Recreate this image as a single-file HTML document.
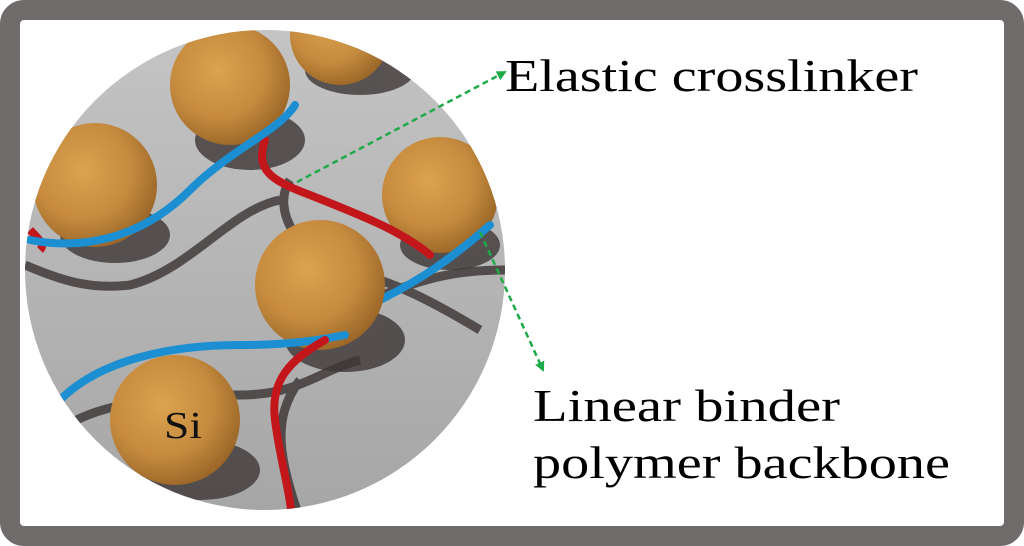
<!DOCTYPE html>
<html><head><style>
html,body{margin:0;padding:0;background:#fff;}
svg{display:block;}
</style></head><body>
<svg width="1024" height="546" viewBox="0 0 1024 546" xmlns="http://www.w3.org/2000/svg">
<defs>
<linearGradient id="bg" x1="0" y1="0" x2="0" y2="1">
<stop offset="0" stop-color="#c4c4c4"/><stop offset="1" stop-color="#a6a6a6"/>
</linearGradient>
<radialGradient id="ball" cx="0.4" cy="0.38" r="0.65">
<stop offset="0" stop-color="#dba250"/><stop offset="0.6" stop-color="#c68b3e"/><stop offset="1" stop-color="#9a6628"/>
</radialGradient>
<clipPath id="cc"><circle cx="265" cy="270" r="240"/></clipPath>
<marker id="ah" markerWidth="10" markerHeight="10" refX="8" refY="5" orient="auto" markerUnits="userSpaceOnUse">
<path d="M0,0 L10,5 L0,10 z" fill="#1faa4a"/></marker>
</defs>
<rect x="10" y="10" width="1004" height="526" rx="14" fill="#fff" stroke="#6f6b6b" stroke-width="20"/>
<circle cx="265" cy="270" r="240" fill="url(#bg)"/>
<g clip-path="url(#cc)">
<g fill="none" stroke="#3a3433" stroke-width="9" opacity="0.8">
<path d="M25,265 C60,280 90,290 130,285 C190,270 230,210 280,200"/>
<path d="M290,180 C270,210 300,260 350,270 C400,285 430,300 480,330"/>
<path d="M60,430 C100,400 180,395 240,395 C300,395 320,370 360,360"/>
<path d="M300,380 C270,420 280,460 300,520"/>
<path d="M370,300 C420,280 450,270 505,270"/>
</g>
<g fill="#3d3636" opacity="0.8">
<ellipse cx="250" cy="140" rx="55" ry="30"/>
<ellipse cx="115" cy="235" rx="55" ry="28"/>
<ellipse cx="450" cy="245" rx="50" ry="25"/>
<ellipse cx="345" cy="340" rx="60" ry="32"/>
<ellipse cx="200" cy="470" rx="60" ry="30"/>
<ellipse cx="360" cy="70" rx="55" ry="25"/>
</g>
<circle cx="340" cy="35" r="50" fill="url(#ball)"/>
<circle cx="230" cy="85" r="60" fill="url(#ball)"/>
<circle cx="95" cy="185" r="62" fill="url(#ball)"/>
<circle cx="440" cy="195" r="58" fill="url(#ball)"/>
<path d="M30,230 C40,240 45,245 40,250" stroke="#c2161b" stroke-width="8" fill="none"/>
<path d="M265,140 C255,170 270,180 310,195 C360,215 400,230 430,255" stroke="#c2161b" stroke-width="8" fill="none" stroke-linecap="round"/>
<path d="M30,240 C80,250 140,240 190,190 C230,150 280,130 295,105" stroke="#1b8fd2" stroke-width="8" fill="none" stroke-linecap="round"/>
<path d="M380,300 C420,280 450,260 490,225" stroke="#1b8fd2" stroke-width="8" fill="none" stroke-linecap="round"/>
<circle cx="320" cy="285" r="65" fill="url(#ball)"/>
<path d="M60,400 C100,360 170,345 240,345 C290,345 320,340 345,335" stroke="#1b8fd2" stroke-width="8" fill="none" stroke-linecap="round"/>
<path d="M325,340 C290,360 270,380 275,420 C280,460 290,490 292,520" stroke="#c2161b" stroke-width="8" fill="none" stroke-linecap="round"/>
<circle cx="175" cy="420" r="65" fill="url(#ball)"/>
</g>
<text x="164" y="438" font-family="Liberation Serif, serif" font-size="38" textLength="38" lengthAdjust="spacingAndGlyphs" fill="#111">Si</text>
<line x1="297" y1="182" x2="505" y2="72" stroke="#1faa4a" stroke-width="2.5" stroke-dasharray="6,4" marker-end="url(#ah)"/>
<line x1="480" y1="232" x2="543" y2="370" stroke="#1faa4a" stroke-width="2.5" stroke-dasharray="6,4" marker-end="url(#ah)"/>
<text x="505" y="91" font-family="Liberation Serif, serif" font-size="46" textLength="413" lengthAdjust="spacingAndGlyphs" fill="#000">Elastic crosslinker</text>
<text x="533" y="421" font-family="Liberation Serif, serif" font-size="46" textLength="307" lengthAdjust="spacingAndGlyphs" fill="#000">Linear binder</text>
<text x="533" y="478" font-family="Liberation Serif, serif" font-size="46" textLength="417" lengthAdjust="spacingAndGlyphs" fill="#000">polymer backbone</text>
</svg>
</body></html>
